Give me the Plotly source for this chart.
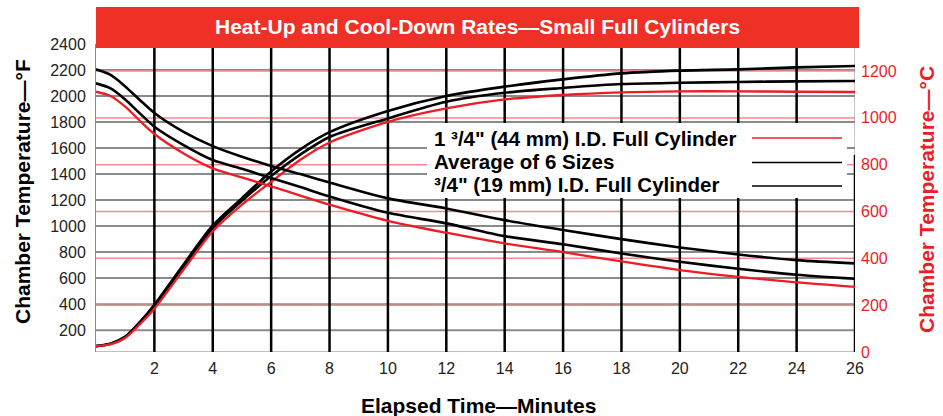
import plotly.graph_objects as go

# ---- data ----
minutes = [0, 0.5, 1, 1.5, 2, 3, 4, 5, 6, 7, 8, 10, 12, 14, 16, 18, 20, 22, 24, 26]

# Heat-up, chamber temperature in °F
heat_19mm = [77, 95, 150, 262, 395, 705, 1005, 1215, 1420, 1590, 1722, 1885, 2000, 2072, 2128, 2174, 2195, 2205, 2220, 2231]
heat_avg = [77, 95, 146, 255, 385, 690, 985, 1195, 1385, 1550, 1685, 1828, 1956, 2025, 2062, 2092, 2102, 2108, 2113, 2115]
heat_44mm = [77, 93, 140, 245, 365, 665, 960, 1165, 1340, 1510, 1643, 1802, 1905, 1974, 2008, 2028, 2036, 2036, 2033, 2031]

# Cool-down, chamber temperature in °F
cool_19mm = [2205, 2162, 2074, 1970, 1870, 1725, 1615, 1533, 1462, 1400, 1335, 1213, 1136, 1046, 970, 900, 836, 782, 738, 713]
cool_avg = [2098, 2059, 1974, 1867, 1764, 1623, 1508, 1440, 1370, 1300, 1228, 1102, 1021, 923, 860, 790, 726, 672, 626, 595]
cool_44mm = [2033, 2000, 1918, 1810, 1708, 1559, 1444, 1374, 1305, 1235, 1165, 1041, 949, 867, 800, 728, 662, 610, 567, 533]

x_ticks = [2, 4, 6, 8, 10, 12, 14, 16, 18, 20, 22, 24, 26]
f_ticks = [200, 400, 600, 800, 1000, 1200, 1400, 1600, 1800, 2000, 2200, 2400]
c_ticks = [0, 200, 400, 600, 800, 1000, 1200]

legend_labels = [
    '1 \u00b3/4" (44 mm) I.D. Full Cylinder',
    'Average of 6 Sizes',
    '\u00b3/4" (19 mm) I.D. Full Cylinder',
]

title_text = "Heat-Up and Cool-Down Rates\u2014Small Full Cylinders"
left_title = "Chamber Temperature\u2014°F"
right_title = "Chamber Temperature\u2014°C"
x_title = "Elapsed Time\u2014Minutes"

# ---- styles ----
RED = "#EE1C25"
BAR_RED = "#EE3026"
BLACK = "#000000"
GRAY = "#8A8A8A"
PINK = "#F58A90"
FONT = "Liberation Sans"

X_MIN, X_MAX = 0, 26
F_MIN, F_MAX = 32, 2400
C_MAX = (F_MAX - 32) / 1.8

fig = go.Figure()

series = [
    (heat_19mm, BLACK, 2.6), (heat_avg, BLACK, 2.6), (heat_44mm, RED, 2.3),
    (cool_19mm, BLACK, 2.6), (cool_avg, BLACK, 2.6), (cool_44mm, RED, 2.3),
]
for ys, col, w in series:
    fig.add_trace(go.Scatter(x=minutes, y=ys, mode="lines",
                             line=dict(color=col, width=w, shape="spline", smoothing=0.8),
                             showlegend=False, hoverinfo="skip"))

# dummy trace so the °C axis is drawn
fig.add_trace(go.Scatter(x=[None], y=[None], yaxis="y2", showlegend=False, hoverinfo="skip"))

fig.update_layout(
    width=943, height=416,
    margin=dict(l=96, r=88, t=44, b=64),
    paper_bgcolor="white", plot_bgcolor="white",
    font=dict(family=FONT, color="black"),
    xaxis=dict(range=[X_MIN, X_MAX], tickvals=x_ticks, ticktext=[str(v) for v in x_ticks],
               showgrid=False, zeroline=False, showline=False, ticks="",
               tickfont=dict(size=16, color="#222"), ticklabelstandoff=5),
    yaxis=dict(range=[F_MIN, F_MAX], tickvals=f_ticks, ticktext=[str(v) for v in f_ticks],
               showgrid=False, zeroline=False, showline=True, linecolor=GRAY, linewidth=1,
               ticks="", tickfont=dict(size=16, color="#222"), ticklabelstandoff=6),
    yaxis2=dict(range=[0, C_MAX], overlaying="y", side="right",
                tickvals=c_ticks, ticktext=[str(v) for v in c_ticks],
                showgrid=False, zeroline=False, showline=False, ticks="",
                tickfont=dict(size=16, color=RED), ticklabelstandoff=5),
)

# pixel helpers (plot area: x 96..855, y 44..352)
def px_x(p):
    return (p - 96) / 759.0

def px_y(p):
    return (352 - p) / 308.0

def dx(p):
    return X_MIN + px_x(p) * (X_MAX - X_MIN)

def dy(p):
    return F_MIN + px_y(p) * (F_MAX - F_MIN)

shapes = []
# grid lines drawn as shapes on the axes' own scales
for f in f_ticks:
    shapes.append(dict(type="line", xref="x", yref="y", x0=X_MIN, x1=X_MAX, y0=f, y1=f,
                       line=dict(color=GRAY, width=2), layer="below"))
for c in c_ticks:
    shapes.append(dict(type="line", xref="x", yref="y2", x0=X_MIN, x1=X_MAX, y0=c, y1=c,
                       line=dict(color=PINK, width=1.5), layer="below"))
for t in x_ticks[:-1]:
    shapes.append(dict(type="line", xref="x", yref="y", x0=t, x1=t, y0=F_MIN, y1=F_MAX,
                       line=dict(color=BLACK, width=2.5), layer="below"))
# right edge: thin gray above, heavy black below
shapes.append(dict(type="line", xref="x", yref="y", x0=x_ticks[-1], x1=x_ticks[-1],
                   y0=dy(155), y1=F_MAX, line=dict(color=GRAY, width=1), layer="below"))
shapes.append(dict(type="line", xref="x", yref="y", x0=x_ticks[-1], x1=x_ticks[-1],
                   y0=F_MIN, y1=dy(155), line=dict(color=BLACK, width=2.5), layer="below"))
# legend box (hides grid lines beneath, under the curves)
shapes.append(dict(type="rect", xref="x", yref="y",
                   x0=dx(427), x1=dx(847), y0=dy(198), y1=dy(123),
                   fillcolor="white", line=dict(width=0), layer="below"))
# title bar
shapes.append(dict(type="rect", xref="paper", yref="paper",
                   x0=px_x(96), x1=px_x(859), y0=px_y(48), y1=px_y(7),
                   fillcolor=BAR_RED, line=dict(width=0), layer="above"))
# legend line samples
for yy, col in [(138, RED), (162.5, BLACK), (186, BLACK)]:
    shapes.append(dict(type="line", xref="paper", yref="paper",
                       x0=px_x(752), x1=px_x(842), y0=px_y(yy), y1=px_y(yy),
                       line=dict(color=col, width=1.6), layer="above"))
fig.update_layout(shapes=shapes)

ann = []
ann.append(dict(text=f"<b>{title_text}</b>", xref="paper", yref="paper",
                x=px_x(477), y=px_y(27), xanchor="center", yanchor="middle", showarrow=False,
                font=dict(size=21, color="white", family=FONT)))
for lbl, yy in zip(legend_labels, [138, 161, 184]):
    ann.append(dict(text=f"<b>{lbl}</b>", xref="paper", yref="paper",
                    x=px_x(432), y=px_y(yy), xanchor="left", yanchor="middle", showarrow=False,
                    font=dict(size=20.5, color="black", family=FONT)))
ann.append(dict(text=f"<b>{left_title}</b>", xref="paper", yref="paper",
                x=px_x(22), y=px_y(192), xanchor="center", yanchor="middle",
                textangle=-90, showarrow=False,
                font=dict(size=21, color="black", family=FONT)))
ann.append(dict(text=f"<b>{right_title}</b>", xref="paper", yref="paper",
                x=px_x(926), y=px_y(200), xanchor="center", yanchor="middle",
                textangle=-90, showarrow=False,
                font=dict(size=21, color=RED, family=FONT)))
ann.append(dict(text=f"<b>{x_title}</b>", xref="paper", yref="paper",
                x=px_x(478), y=px_y(405), xanchor="center", yanchor="middle", showarrow=False,
                font=dict(size=21, color="black", family=FONT)))
fig.update_layout(annotations=ann)

fig.write_html("out.html", config={"displayModeBar": False},
               post_script="document.body.style.margin='0';")
